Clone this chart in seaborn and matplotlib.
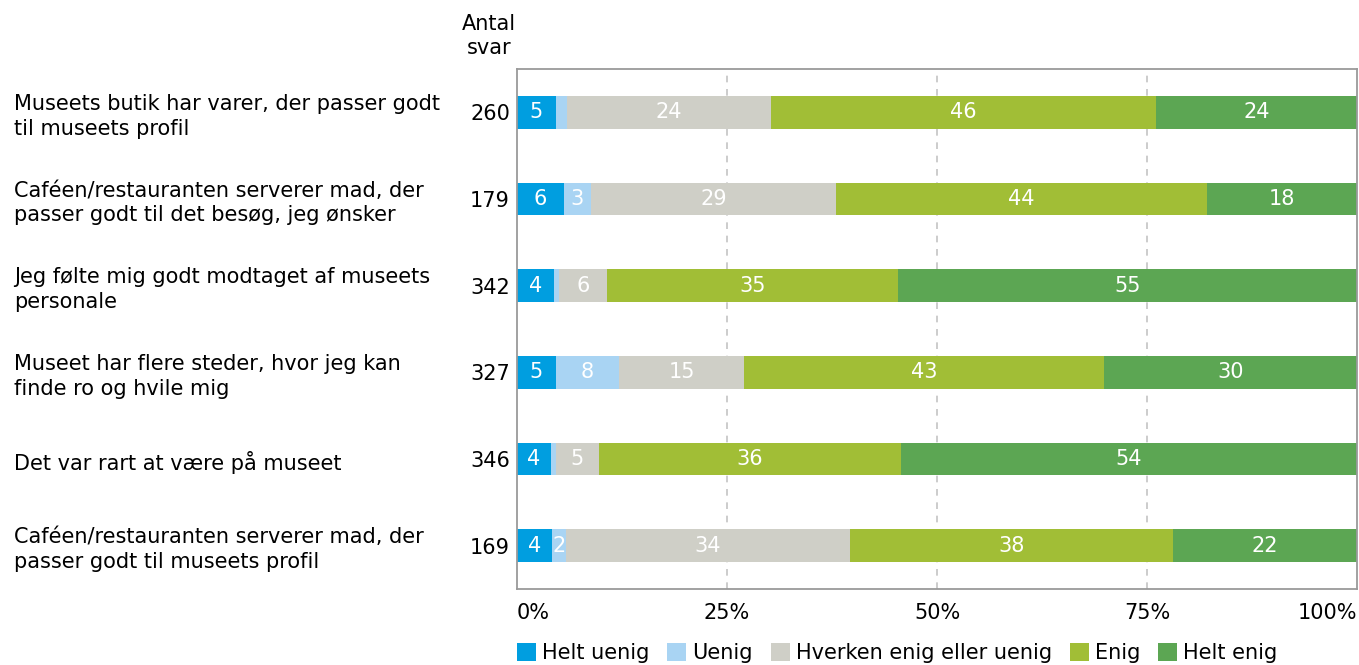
import matplotlib
matplotlib.use("Agg")
import matplotlib.pyplot as plt
import matplotlib.transforms as mtransforms
from matplotlib.patches import Patch
import pandas as pd
import seaborn as sns


QUESTIONS = [
    "Museets butik har varer, der passer godt\ntil museets profil",
    "Caféen/restauranten serverer mad, der\npasser godt til det besøg, jeg ønsker",
    "Jeg følte mig godt modtaget af museets\npersonale",
    "Museet har flere steder, hvor jeg kan\nfinde ro og hvile mig",
    "Det var rart at være på museet",
    "Caféen/restauranten serverer mad, der\npasser godt til museets profil",
]
COUNTS = [260, 179, 342, 327, 346, 169]

CATEGORIES = ["Helt uenig", "Uenig", "Hverken enig eller uenig", "Enig", "Helt enig"]
HELT_UENIG = [4.6, 5.6, 4.4, 4.6, 4.0, 4.2]
UENIG = [1.4, 3.2, 0.6, 7.6, 0.6, 1.6]
HVERKEN = [24.2, 29.2, 5.7, 14.8, 5.2, 33.9]
ENIG = [45.9, 44.1, 34.6, 42.9, 35.9, 38.4]
HELT_ENIG = [23.9, 17.9, 54.7, 30.1, 54.3, 21.9]

COLORS = ["#009ee0", "#a9d4f3", "#cfcfc7", "#a1be36", "#5ca653"]
X_TICKS = [0, 25, 50, 75, 100]
X_TICK_LABELS = ["0%", "25%", "50%", "75%", "100%"]


def main() -> None:
    sns.set_style("white")
    plt.rcParams["font.family"] = ["DejaVu Sans"]
    plt.rcParams["text.color"] = "black"
    fs = 15

    df = pd.DataFrame(
        {
            "question": QUESTIONS,
            "n": [str(c) for c in COUNTS],
            CATEGORIES[0]: HELT_UENIG,
            CATEGORIES[1]: UENIG,
            CATEGORIES[2]: HVERKEN,
            CATEGORIES[3]: ENIG,
            CATEGORIES[4]: HELT_ENIG,
        }
    )
    cum = df[CATEGORIES].cumsum(axis=1)

    fig = plt.figure(figsize=(13.59, 6.65), dpi=100)
    ax = fig.add_axes([517 / 1359, 1 - 589 / 665, 840 / 1359, 520 / 665])

    # draw cumulative bars from the widest down so each segment shows
    for cat, color in reversed(list(zip(CATEGORIES, COLORS))):
        sns.barplot(
            x=cum[cat], y=df["n"], order=df["n"], orient="h", color=color,
            width=0.38, saturation=1, ax=ax, linewidth=0,
        )

    # segment labels
    for i in range(len(df)):
        left = 0.0
        for cat in CATEGORIES:
            val = df.loc[i, cat]
            if val >= 1.5:
                ax.text(left + val / 2, i, f"{round(val):d}", ha="center", va="center",
                        color="white", fontsize=fs)
            left += val

    ax.set_xlim(0, 100)
    ax.set_ylim(5.5, -0.5)
    ax.set_xticks(X_TICKS)
    ax.set_xticklabels(X_TICK_LABELS, fontsize=fs, color="black")
    labels = ax.get_xticklabels()
    labels[0].set_horizontalalignment("left")
    labels[-1].set_horizontalalignment("right")
    ax.tick_params(axis="x", length=0, pad=10)
    ax.tick_params(axis="y", length=0, pad=5, labelsize=fs, labelcolor="black")
    ax.set_xlabel("")
    ax.set_ylabel("")
    for x in [25, 50, 75]:
        ax.axvline(x, color="#c4c4c4", linewidth=1.2, linestyle=(0, (4, 4)), zorder=0)
    ax.set_axisbelow(True)
    for spine in ax.spines.values():
        spine.set_color("#9a9a9a")
        spine.set_linewidth(1.3)

    trans = mtransforms.blended_transform_factory(fig.transFigure, ax.transData)
    for i, q in enumerate(QUESTIONS):
        ax.text(14 / 1359, i + 0.045, q, transform=trans, ha="left", va="center",
                fontsize=fs, linespacing=1.3, color="black")

    fig.text(489 / 1359, 1 - 36 / 665, "Antal\nsvar", ha="center", va="center",
             fontsize=fs, linespacing=1.3, color="black")

    handles = [Patch(facecolor=c, edgecolor="none") for c in COLORS]
    fig.legend(
        handles, CATEGORIES, loc="center left", ncol=5, frameon=False,
        bbox_to_anchor=(517 / 1359, 1 - 653 / 665), fontsize=fs,
        handlelength=0.91, handleheight=0.91, handletextpad=0.29,
        columnspacing=0.86, borderpad=0, borderaxespad=0,
    )

    fig.savefig("out.png", dpi=100)
    plt.close(fig)


if __name__ == "__main__":
    main()
